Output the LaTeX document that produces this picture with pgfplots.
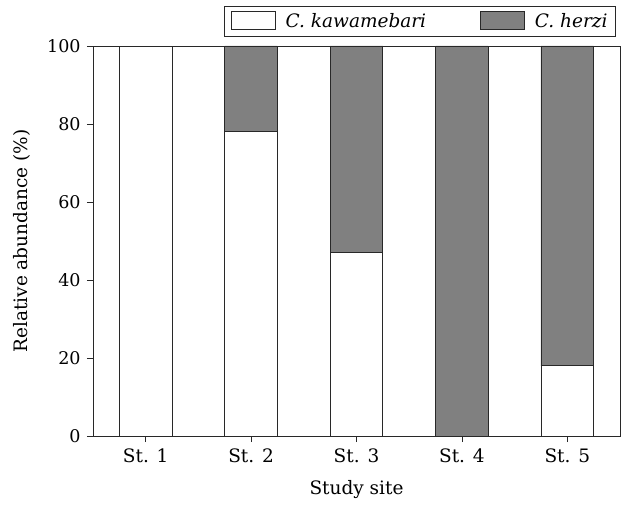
\documentclass[border=0pt]{standalone}
\usepackage{pgfplots}
\pgfplotsset{compat=1.18}
\usepackage{fontspec}
\setmainfont{DejaVu Serif}
\definecolor{hz}{RGB}{128,128,128}
\definecolor{ln}{RGB}{40,40,40}
\begin{document}
\fontsize{18.5}{22}\selectfont
\begin{tikzpicture}
\path[use as bounding box] (-93pt,-70pt) rectangle (533pt,436pt);
\begin{axis}[at={(0pt,0pt)}, anchor=south west, scale only axis, width=527pt, height=390pt,
  ybar stacked, bar width=0.5,
  xmin=0.5, xmax=5.5, ymin=0, ymax=100,
  xtick={1,2,3,4,5}, xticklabels={St. 1,St. 2,St. 3,St. 4,St. 5},
  ytick={0,20,40,60,80,100},
  tick align=outside, xtick pos=bottom, ytick pos=left, major tick length=6pt,
  axis line style={line width=0.8pt, ln},
  tick style={line width=0.8pt, ln},
  /pgf/number format/assume math mode=true,
  yticklabel style={font=\fontsize{17.5}{20}\selectfont},
  xticklabel style={font=\fontsize{18.5}{22}\selectfont},
  label style={font=\fontsize{18.5}{22}\selectfont},
  xlabel={Study site}, ylabel={Relative abundance (\%)},
  xlabel style={at={(axis description cs:0.5,-0.138)}, anchor=center},
  ylabel style={at={(axis description cs:-0.135,0.5)}, anchor=center},
  legend columns=2,
  legend style={at={(0.9924,1.023)}, anchor=south east, draw=ln, line width=0.8pt,
    font=\fontsize{18.5}{22}\selectfont\itshape, inner xsep=6pt, inner ysep=4pt,
    /tikz/every odd column/.append style={column sep=8pt},
    /tikz/every even column/.append style={column sep=52pt}},
  legend image code/.code={\draw[#1, line width=0.8pt] (0pt,-7pt) rectangle (44pt,11pt);},
]
\addplot[fill=white, draw=ln, line width=0.8pt] coordinates {(1,100) (2,78) (3,47) (4,0) (5,18)};
\addplot[fill=hz, draw=ln, line width=0.8pt] coordinates {(1,0) (2,22) (3,53) (4,100) (5,82)};
\legend{C. kawamebari, C. herzi}
\end{axis}
\end{tikzpicture}
\end{document}
